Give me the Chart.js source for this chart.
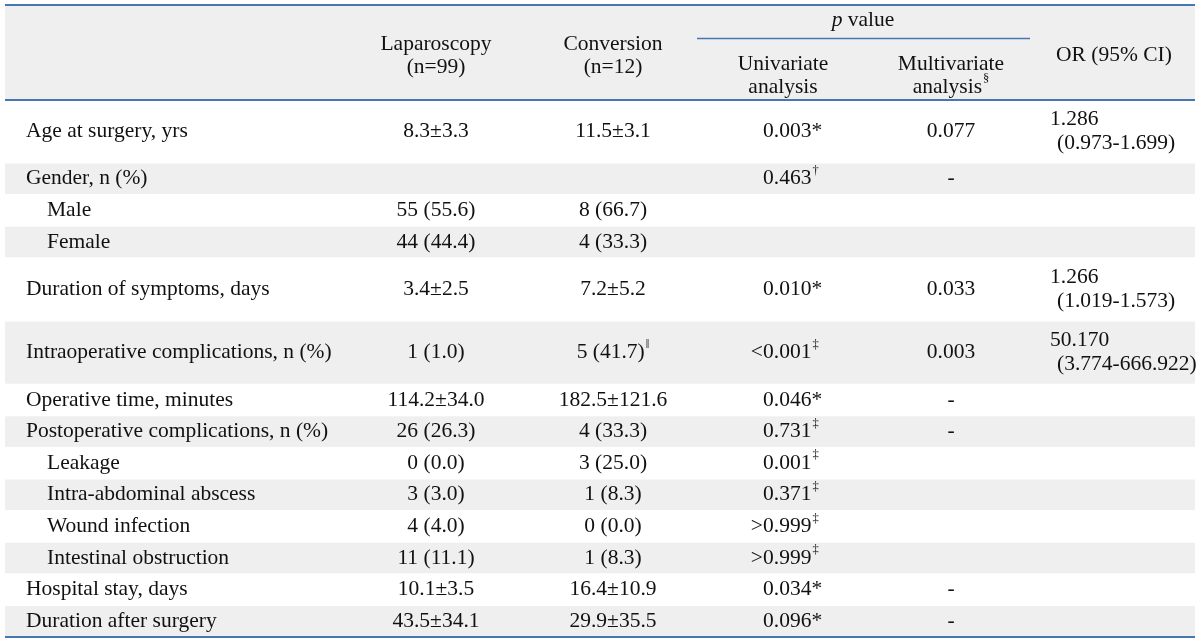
<!DOCTYPE html>
<html>
<head>
<meta charset="utf-8">
<script src="https://cdn.jsdelivr.net/npm/chart.js@4.4.1/dist/chart.umd.min.js"></script>
<style>
  html, body { margin: 0; padding: 0; background: #ffffff; }
  #wrap { width: 1200px; height: 644px; position: relative; }
</style>
</head>
<body>
<div id="wrap"><canvas id="c"></canvas></div>
<script>
// ---- table content ----
const categories = ['Age at surgery, yrs', 'Gender, n (%)', 'Male', 'Female', 'Duration of symptoms, days',
  'Intraoperative complications, n (%)', 'Operative time, minutes', 'Postoperative complications, n (%)',
  'Leakage', 'Intra-abdominal abscess', 'Wound infection', 'Intestinal obstruction',
  'Hospital stay, days', 'Duration after surgery'];
const subItem = [false, false, true, true, false, false, false, false, true, true, true, true, false, false];
const rowSpans = [2, 1, 1, 1, 2, 2, 1, 1, 1, 1, 1, 1, 1, 1];
const laparoscopy = ['8.3±3.3', '', '55 (55.6)', '44 (44.4)', '3.4±2.5', '1 (1.0)', '114.2±34.0',
  '26 (26.3)', '0 (0.0)', '3 (3.0)', '4 (4.0)', '11 (11.1)', '10.1±3.5', '43.5±34.1'];
const conversion = ['11.5±3.1', '', '8 (66.7)', '4 (33.3)', '7.2±5.2', '5 (41.7)', '182.5±121.6',
  '4 (33.3)', '3 (25.0)', '1 (8.3)', '0 (0.0)', '1 (8.3)', '16.4±10.9', '29.9±35.5'];
const conversionNotes = ['', '', '', '', '', '‖', '', '', '', '', '', '', '', ''];
const univariate = ['0.003*', '0.463', '', '', '0.010*', '<0.001', '0.046*', '0.731', '0.001', '0.371',
  '>0.999', '>0.999', '0.034*', '0.096*'];
const univariateNotes = ['', '†', '', '', '', '‡', '', '‡', '‡', '‡', '‡', '‡', '', ''];
const multivariate = ['0.077', '-', '', '', '0.033', '0.003', '-', '-', '', '', '', '', '-', '-'];
const orValue = ['1.286', '', '', '', '1.266', '50.170', '', '', '', '', '', '', '', ''];
const orCI = ['(0.973-1.699)', '', '', '', '(1.019-1.573)', '(3.774-666.922)', '', '', '', '', '', '', '', ''];

const groupHeaders = [['Laparoscopy', '(n=99)'], ['Conversion', '(n=12)']];
const pHeaderItalic = 'p';
const pHeaderRest = ' value';
const pSubHeaders = [['Univariate', 'analysis'], ['Multivariate', 'analysis']];
const pSubHeaderNotes = ['', '§'];
const orHeader = 'OR (95% CI)';

// ---- layout / style ----
const HEADER_UNITS = 3;
const TOTAL_UNITS = HEADER_UNITS + rowSpans.reduce((a, b) => a + b, 0);
const FONT = '"Liberation Serif", "Times New Roman", serif';
const FS = 21.5;
const NOTE_FS = 12.5;
const TXT = '#111111';
const BAND = '#efefef';
const RULE = '#4677b0';
const COL = { label: 26, sub: 47, lap: 436, conv: 613, univ: 763, univHead: 783, multi: 951,
  orVal: 1050, orCI: 1057, orHead: 1114, pHead: 863, pLineL: 697, pLineR: 1030, left: 5, right: 1195 };
const HEAD_Y = { g1: 1.24, g2: 1.96, p: 0.5, pLine: 1.06, s1: 1.88, s2: 2.6, or: 1.6 };

const rowStart = [];
(function () { let s = HEADER_UNITS; rowSpans.forEach(sp => { rowStart.push(s); s += sp; }); })();
const rowCenter = rowStart.map((s, i) => s + rowSpans[i] / 2);

function pts(arr, xKey, dy) {
  return arr.map((t, i) => ({ x: typeof xKey === 'function' ? xKey(i) : COL[xKey], y: rowCenter[i] + (dy || 0) }));
}

const columns = [
  { id: 'label', texts: categories, data: pts(categories, i => subItem[i] ? COL.sub : COL.label), align: 'left' },
  { id: 'lap', texts: laparoscopy, data: pts(laparoscopy, 'lap'), align: 'center' },
  { id: 'conv', texts: conversion, notes: conversionNotes, data: pts(conversion, 'conv'), align: 'center' },
  { id: 'univ', texts: univariate, notes: univariateNotes, data: pts(univariate, 'univ'), align: 'digits' },
  { id: 'multi', texts: multivariate, data: pts(multivariate, 'multi'), align: 'center' },
  { id: 'orVal', texts: orValue, data: pts(orValue, 'orVal', -0.38), align: 'left' },
  { id: 'orCI', texts: orCI, data: pts(orCI, 'orCI', 0.38), align: 'left' }
];

function drawCell(ctx, text, note, x, y, align) {
  ctx.font = FS + 'px ' + FONT;
  ctx.fillStyle = TXT;
  ctx.textBaseline = 'middle';
  const w = ctx.measureText(text).width;
  ctx.font = NOTE_FS + 'px ' + FONT;
  const nw = note ? ctx.measureText(note).width + 1 : 0;
  ctx.font = FS + 'px ' + FONT;
  let left;
  if (align === 'center') left = x - (w + nw) / 2;
  else if (align === 'digits') {
    const c = text.charAt(0);
    left = (c === '<' || c === '>') ? x - ctx.measureText(c).width : x;
  } else left = x;
  ctx.textAlign = 'left';
  ctx.fillText(text, left, y);
  if (note) {
    ctx.font = NOTE_FS + 'px ' + FONT;
    ctx.fillText(note, left + w + 1, y - 8);
  }
}

const tablePlugin = {
  id: 'tablePlugin',
  beforeDatasetsDraw(chart) {
    const { ctx, scales: { x, y } } = chart;
    ctx.save();
    ctx.fillStyle = '#ffffff';
    ctx.fillRect(0, 0, chart.width, chart.height);
    const L = x.getPixelForValue(COL.left), R = x.getPixelForValue(COL.right);
    ctx.fillStyle = BAND;
    ctx.fillRect(L, y.getPixelForValue(0), R - L, y.getPixelForValue(HEADER_UNITS) - y.getPixelForValue(0));
    rowStart.forEach((s, i) => {
      if (i % 2 === 1) {
        const t = y.getPixelForValue(s), b = y.getPixelForValue(s + rowSpans[i]);
        ctx.fillRect(L, t + 0.5, R - L, b - t - 1);
      }
    });
    ctx.restore();
  },
  afterDatasetsDraw(chart) {
    const { ctx, scales: { x, y } } = chart;
    ctx.save();
    const L = x.getPixelForValue(COL.left), R = x.getPixelForValue(COL.right);
    ctx.strokeStyle = RULE;
    ctx.lineWidth = 2;
    [0, HEADER_UNITS, TOTAL_UNITS].forEach(u => {
      const py = Math.round(y.getPixelForValue(u));
      ctx.beginPath(); ctx.moveTo(L, py); ctx.lineTo(R, py); ctx.stroke();
    });
    ctx.lineWidth = 1.6;
    const pl = y.getPixelForValue(HEAD_Y.pLine);
    ctx.beginPath(); ctx.moveTo(x.getPixelForValue(COL.pLineL), pl); ctx.lineTo(x.getPixelForValue(COL.pLineR), pl); ctx.stroke();

    const hy1 = y.getPixelForValue(HEAD_Y.g1), hy2 = y.getPixelForValue(HEAD_Y.g2);
    [['lap', 0], ['conv', 1]].forEach(([k, i]) => {
      drawCell(ctx, groupHeaders[i][0], '', x.getPixelForValue(COL[k]), hy1, 'center');
      drawCell(ctx, groupHeaders[i][1], '', x.getPixelForValue(COL[k]), hy2, 'center');
    });
    ctx.font = 'italic ' + FS + 'px ' + FONT;
    const wp = ctx.measureText(pHeaderItalic).width;
    ctx.font = FS + 'px ' + FONT;
    const wr = ctx.measureText(pHeaderRest).width;
    const px0 = x.getPixelForValue(COL.pHead) - (wp + wr) / 2, py0 = y.getPixelForValue(HEAD_Y.p);
    ctx.fillStyle = TXT; ctx.textBaseline = 'middle'; ctx.textAlign = 'left';
    ctx.font = 'italic ' + FS + 'px ' + FONT;
    ctx.fillText(pHeaderItalic, px0, py0);
    ctx.font = FS + 'px ' + FONT;
    ctx.fillText(pHeaderRest, px0 + wp, py0);
    const sy1 = y.getPixelForValue(HEAD_Y.s1), sy2 = y.getPixelForValue(HEAD_Y.s2);
    [['univHead', 0], ['multi', 1]].forEach(([k, i]) => {
      drawCell(ctx, pSubHeaders[i][0], '', x.getPixelForValue(COL[k]), sy1, 'center');
      drawCell(ctx, pSubHeaders[i][1], pSubHeaderNotes[i], x.getPixelForValue(COL[k]), sy2, 'center');
    });
    drawCell(ctx, orHeader, '', x.getPixelForValue(COL.orHead), y.getPixelForValue(HEAD_Y.or), 'center');

    chart.data.datasets.forEach((ds, di) => {
      const col = columns[di];
      const meta = chart.getDatasetMeta(di);
      meta.data.forEach((el, i) => {
        const t = col.texts[i];
        if (!t) return;
        drawCell(ctx, t, col.notes ? col.notes[i] : '', el.x, el.y, col.align);
      });
    });
    ctx.restore();
  }
};

new Chart(document.getElementById('c'), {
  type: 'scatter',
  data: {
    datasets: columns.map(c => ({ label: c.id, data: c.data, pointRadius: 0, pointHoverRadius: 0, showLine: false }))
  },
  options: {
    responsive: true,
    maintainAspectRatio: false,
    animation: false,
    events: [],
    layout: { padding: { left: 0, right: 0, top: 5, bottom: 7 }, autoPadding: false },
    plugins: { legend: { display: false }, tooltip: { enabled: false } },
    scales: {
      x: { type: 'linear', min: 0, max: 1200, display: false },
      y: { type: 'linear', min: 0, max: TOTAL_UNITS, reverse: true, display: false }
    }
  },
  plugins: [tablePlugin]
});
</script>
</body>
</html>
